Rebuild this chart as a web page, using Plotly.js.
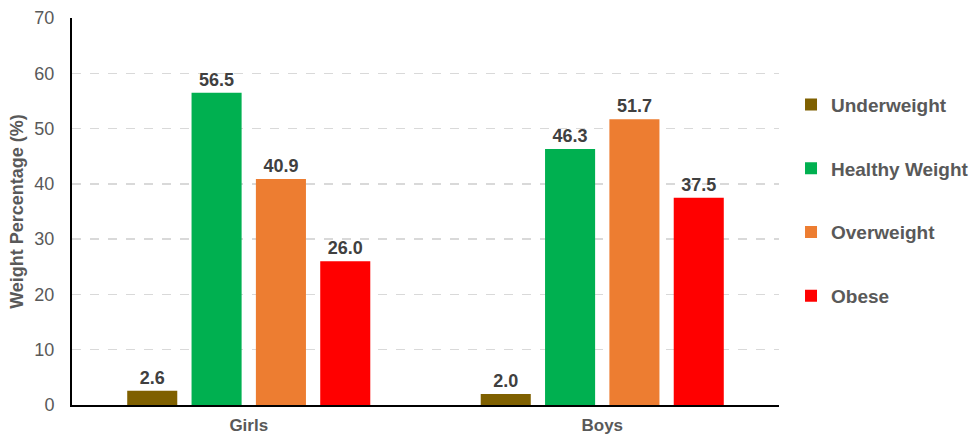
<!DOCTYPE html>
<html><head><meta charset="utf-8">
<script src="https://cdn.plot.ly/plotly-3.0.1.min.js"></script>
<style>body{margin:0;}#chart{width:969px;height:437px;}</style>
</head><body><div id="chart"></div>
<script>
const categories = ["Girls", "Boys"];
const seriesNames = ["Underweight", "Healthy Weight", "Overweight", "Obese"];
const underweight = [2.6, 2.0];
const healthyWeight = [56.5, 46.3];
const overweight = [40.9, 51.7];
const obese = [26.0, 37.5];
const colors = ["#7F6000", "#00B050", "#ED7D31", "#FF0000"];
const allValues = [underweight, healthyWeight, overweight, obese];

const traces = allValues.map((vals, i) => ({
  type: 'bar', name: seriesNames[i], x: categories, y: vals,
  marker: {color: colors[i]},
  text: vals.map(v => v.toFixed(1)), textposition: 'outside',
  textfont: {family: 'Arial, Liberation Sans', size: 18, color: '#404040', weight: 'bold'},
  cliponaxis: false, legendgroup: 'g' + i, hoverinfo: 'none'
}));

const layout = {
  width: 969, height: 437,
  margin: {l: 72, r: 190, t: 18, b: 32, autoexpand: false},
  paper_bgcolor: '#ffffff', plot_bgcolor: '#ffffff',
  barmode: 'group', bargap: 0.272, bargroupgap: 0.222,
  font: {family: 'Arial, Liberation Sans', size: 18, color: '#595959'},
  xaxis: {showline: true, linecolor: '#000000', linewidth: 2, ticks: '', ticklabelstandoff: 4,
    tickfont: {size: 17, color: '#595959', weight: 'bold'}},
  yaxis: {range: [0, 70], dtick: 10, showline: true, linecolor: '#000000', linewidth: 2,
    showgrid: true, gridcolor: '#d9d9d9', griddash: 'dash', gridwidth: 1.5, zeroline: false,
    ticks: '', ticklabelstandoff: 12, tickfont: {size: 18, color: '#595959'},
    title: {text: 'Weight Percentage (%)', font: {size: 18, color: '#595959', weight: 'bold'}, standoff: 6}},
  legend: {x: 1.017, xanchor: 'left', y: 0.825, yanchor: 'top', tracegroupgap: 36,
    font: {size: 19, color: '#595959', weight: 'bold'}, itemwidth: 30},
  showlegend: true
};
Plotly.newPlot('chart', traces, layout, {displayModeBar: false, staticPlot: true});
</script></body></html>
